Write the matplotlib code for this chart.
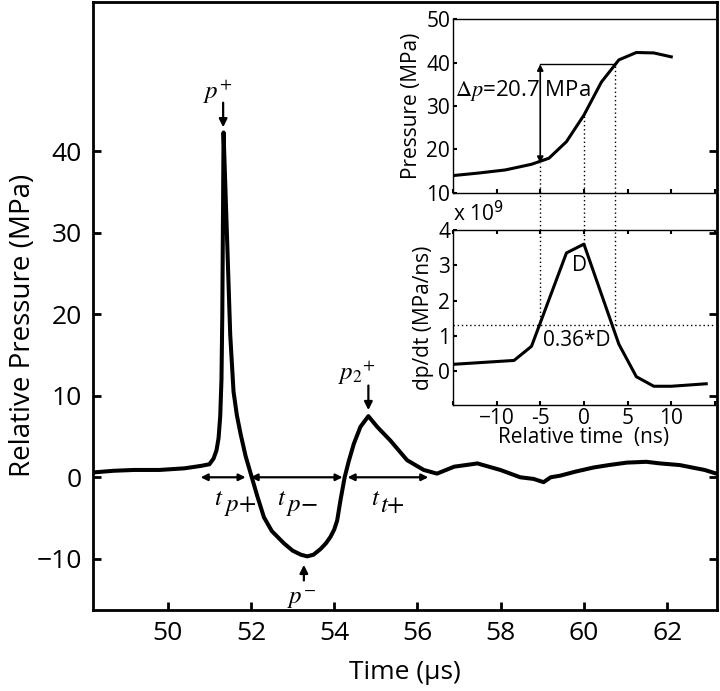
import matplotlib
matplotlib.use('Agg')
import matplotlib.pyplot as plt

plt.rcParams['font.family'] = ['Open Sans', 'DejaVu Sans']
plt.rcParams['mathtext.fontset'] = 'stix'
plt.rcParams['axes.unicode_minus'] = True

# main trace (time in us, relative pressure in MPa)
time_us = [48.22, 48.7, 49.2, 49.8, 50.4, 50.8, 51.0, 51.1, 51.17, 51.22,
           51.26, 51.29, 51.31, 51.33, 51.34, 51.42, 51.5, 51.58, 51.66,
           51.75, 51.87, 51.99, 52.15, 52.31, 52.5, 52.79, 53.0, 53.2,
           53.35, 53.5, 53.67, 53.8, 53.91, 54.0, 54.07, 54.15, 54.25, 54.35,
           54.47, 54.63, 54.82, 55.03, 55.35, 55.75, 56.15, 56.47, 56.88,
           57.44, 57.99, 58.47, 58.79, 59.03, 59.2, 59.43, 59.8, 60.23,
           60.6, 61.03, 61.5, 61.83, 62.3, 62.6, 62.9, 63.15]
pressure = [0.6, 0.8, 0.9, 0.9, 1.1, 1.4, 1.6, 2.3, 3.3, 4.8,
            7.5, 12.0, 20.0, 35.0, 42.3, 30.0, 17.5, 10.5, 7.6,
            5.3, 2.6, 0.5, -2.3, -4.9, -6.6, -8.1, -9.0, -9.5,
            -9.7, -9.5, -8.8, -8.1, -7.3, -6.4, -5.3, -2.8, 0.0, 2.0,
            4.1, 6.2, 7.5, 6.2, 4.5, 2.1, 0.9, 0.45, 1.3,
            1.7, 0.9, 0.0, -0.2, -0.6, 0.0, 0.2, 0.7, 1.2,
            1.5, 1.8, 1.9, 1.7, 1.5, 1.2, 0.9, 0.5]

# inset: pressure around the shock front
rel_t = [-15, -12, -9, -6, -4, -2, 0, 2, 4, 6, 8, 10]
rel_p = [14.0, 14.6, 15.3, 16.6, 18.0, 21.8, 27.9, 35.5, 40.6, 42.3, 42.2, 41.3]

# inset: derivative (x 1e9)
dt_t = [-15, -8, -6, -2, 0, 4, 6, 8, 10, 14]
dpdt = [0.2, 0.31, 0.71, 3.35, 3.6, 0.77, -0.15, -0.42, -0.42, -0.35]

# duration markers on the zero line
spans = [(50.79, 51.87), (51.99, 54.2), (54.32, 56.26)]
span_sub = [r'$p{+}$', r'$p{-}$', r'$t{+}$']
span_t_at = [51.34, 52.85, 55.1]

fig = plt.figure(figsize=(7.2, 6.91), dpi=100)
ax = fig.add_axes([0.129, 0.117, 0.867, 0.880])

ax.plot(time_us, pressure, color='black', lw=2.9, solid_joinstyle='round')
ax.set_xlim(48.2, 63.2)
ax.set_ylim(-16.3, 58.3)
ax.set_xticks([50, 52, 54, 56, 58, 60, 62])
ax.set_yticks([-10, 0, 10, 20, 30, 40])
ax.tick_params(direction='in', length=6, width=2, labelsize=19, pad=8,
               right=True)
for s in ax.spines.values():
    s.set_linewidth(2)
ax.set_xlabel('Time (\u03bcs)', fontsize=19, labelpad=10)
ax.set_ylabel('Relative Pressure (MPa)', fontsize=20)
ax.yaxis.set_label_coords(-0.09, 0.469)

# peak labels
arr = dict(arrowstyle='-|>', color='black', lw=1.6, mutation_scale=12)
ax.text(51.2, 47.3, r'$p^{+}$', fontsize=18, ha='center', va='center')
ax.annotate('', xy=(51.33, 42.6), xytext=(51.33, 46.3), arrowprops=arr)
ax.text(53.2, -14.9, r'$p^{-}$', fontsize=18, ha='center', va='center')
ax.annotate('', xy=(53.27, -10.4), xytext=(53.27, -13.0), arrowprops=arr)
ax.text(54.55, 12.8, r'$p_2{}^{+}$', fontsize=18, ha='center', va='center')
ax.annotate('', xy=(54.82, 7.9), xytext=(54.82, 11.6), arrowprops=arr)

darr = dict(arrowstyle='<|-|>', color='black', lw=1.6, mutation_scale=10,
            shrinkA=0, shrinkB=0)
for (a, b), sub, tx in zip(spans, span_sub, span_t_at):
    ax.annotate('', xy=(a, 0), xytext=(b, 0), arrowprops=darr)
    ax.text(tx, -2.6, r'$t$', fontsize=18, ha='right', va='center')
    ax.text(tx, -3.5, sub, fontsize=18, ha='left', va='center')

# upper inset
ax1 = fig.add_axes([0.629, 0.7207, 0.364, 0.2518], facecolor='none')
ax1.plot(rel_t, rel_p, color='black', lw=2.2)
ax1.set_xlim(-15, 15)
ax1.set_ylim(10, 50)
ax1.set_xticks([-15, -10, -5, 0, 5, 10, 15])
ax1.set_xticklabels([])
ax1.set_yticks([10, 20, 30, 40, 50])
ax1.tick_params(direction='in', length=3, width=1.5, labelsize=15, pad=2,
                right=False)
for s in ax1.spines.values():
    s.set_linewidth(1)
ax1.spines['right'].set_visible(False)
ax1.set_ylabel('Pressure (MPa)', fontsize=15, labelpad=3)

ax1.annotate('', xy=(-5, 39.6), xytext=(-5, 16.9),
             arrowprops=dict(arrowstyle='<|-|>', color='black', lw=1.2,
                             mutation_scale=9, shrinkA=0, shrinkB=0))
ax1.plot([-5, 3.6], [39.6, 39.6], color='black', lw=1)
ax1.text(-14.8, 33.5, r'$\Delta p$=20.7 MPa', fontsize=16, ha='left',
         va='center')
for xv, yv in [(-5, 16.9), (0, 27.9), (3.6, 39.6)]:
    ax1.plot([xv, xv], [1.5, yv], color='black', lw=1, ls=(0, (1, 2)),
             clip_on=False)

# lower inset
ax2 = fig.add_axes([0.629, 0.4139, 0.364, 0.2533], facecolor='none')
ax2.plot(dt_t, dpdt, color='black', lw=2.2)
ax2.set_xlim(-15, 15)
ax2.set_ylim(-0.95, 4)
ax2.set_xticks([-15, -10, -5, 0, 5, 10, 15])
ax2.set_xticklabels(['', '\u221210', '-5', '0', '5', '10', ''])
ax2.set_yticks([0, 1, 2, 3, 4])
ax2.tick_params(direction='in', length=3, width=1.5, labelsize=15, pad=2,
                right=False, top=True)
for s in ax2.spines.values():
    s.set_linewidth(1)
ax2.spines['right'].set_visible(False)
ax2.set_ylabel('dp/dt (MPa/ns)', fontsize=15, labelpad=3)
ax2.set_xlabel('Relative time  (ns)', fontsize=15)
ax2.xaxis.set_label_coords(0.5, -0.125)

ax2.axhline(1.3, color='black', lw=1, ls=(0, (1, 2)))
for xv, yv in [(-5, 1.3), (0, 3.6), (3.6, 1.3)]:
    ax2.plot([xv, xv], [yv, 4], color='black', lw=1, ls=(0, (1, 2)))
ax2.text(-0.45, 3.0, 'D', fontsize=15, ha='center', va='center')
ax2.text(-0.8, 0.86, '0.36*D', fontsize=15, ha='center', va='center')
ax2.text(0.0, 1.02, r'x 10$^9$', transform=ax2.transAxes, fontsize=15,
         ha='left', va='bottom', math_fontfamily='dejavusans')

fig.savefig('out.png', dpi=100)
